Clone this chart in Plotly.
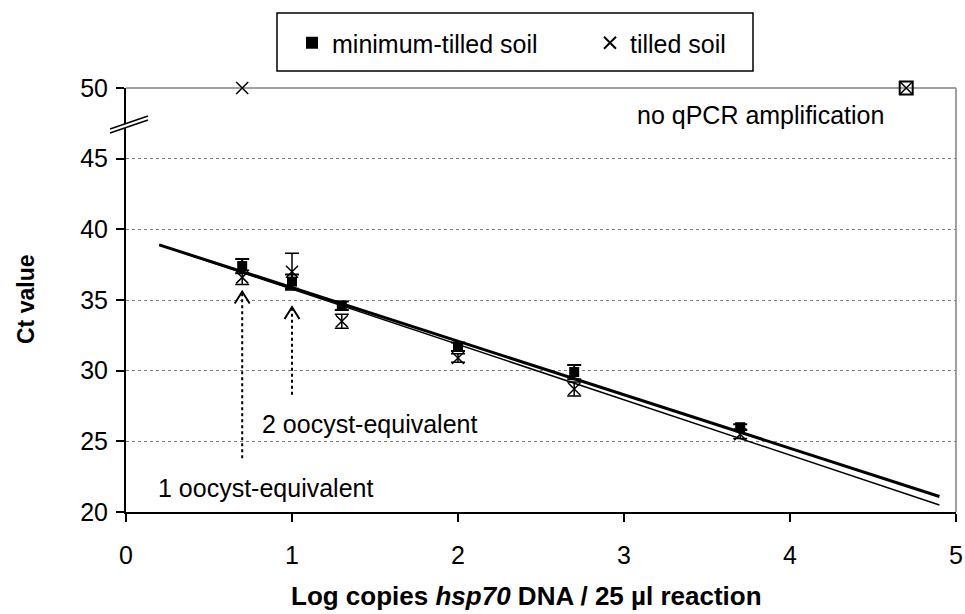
import plotly.graph_objects as go

# ---- data ----
log_copies = [0.7, 1.0, 1.3, 2.0, 2.7, 3.7]
ct_min_tilled = [37.4, 36.3, 34.6, 31.7, 29.9, 26.0]
err_min_tilled = [0.5, 0.5, 0.3, 0.3, 0.5, 0.2]
ct_tilled = [36.6, 37.0, 33.5, 30.9, 28.7, 25.5]
err_tilled = [0.5, 1.3, 0.5, 0.3, 0.5, 0.3]

# no amplification (plotted at Ct 50)
noamp_tilled_x = [0.7, 4.7]
noamp_tilled_y = [50, 50]
noamp_min_x = [4.7]
noamp_min_y = [50]

# regression lines
fit_x = [0.2, 4.9]
fit_min_tilled = [38.9, 21.1]
fit_tilled = [38.9, 20.5]

# oocyst-equivalent arrows
arrow_x = [0.7, 1.0]
arrow_bottom = [23.8, 28.3]
arrow_top = [35.6, 34.5]

x_ticks = [0, 1, 2, 3, 4, 5]
y_ticks = [20, 25, 30, 35, 40, 45, 50]

FONT = "Liberation Sans, Arial, sans-serif"
FS = 25

# plot-area geometry (pixels)
W, H = 965, 614
L, R, T, B = 126, 9, 88, 102
PW, PH = W - L - R, H - T - B


def px_x(p):
    return (p - L) / PW


def px_y(p):
    return (H - B - p) / PH


fig = go.Figure()

# regression lines
fig.add_trace(go.Scatter(x=fit_x, y=fit_tilled, mode="lines",
                         line=dict(color="black", width=1.5), showlegend=False, hoverinfo="skip"))
fig.add_trace(go.Scatter(x=fit_x, y=fit_min_tilled, mode="lines",
                         line=dict(color="black", width=3), showlegend=False, hoverinfo="skip"))

# arrows (dotted shafts + open chevron heads)
for ax, yb, yt in zip(arrow_x, arrow_bottom, arrow_top):
    fig.add_trace(go.Scatter(x=[ax, ax], y=[yb, yt - 0.1], mode="lines",
                             line=dict(color="black", width=2, dash="dot"),
                             showlegend=False, hoverinfo="skip"))
    fig.add_trace(go.Scatter(x=[ax - 0.045, ax, ax + 0.045], y=[yt - 0.85, yt, yt - 0.85],
                             mode="lines", line=dict(color="black", width=2),
                             showlegend=False, hoverinfo="skip"))

# data series
fig.add_trace(go.Scatter(
    x=log_copies, y=ct_min_tilled, mode="markers", name="minimum-tilled soil",
    marker=dict(symbol="square", size=10, color="black"),
    error_y=dict(type="data", array=err_min_tilled, color="black", thickness=2, width=7),
    cliponaxis=False))
fig.add_trace(go.Scatter(
    x=log_copies, y=ct_tilled, mode="markers", name="tilled soil",
    marker=dict(symbol="x-thin-open", size=12, color="black", line=dict(color="black", width=1.5)),
    error_y=dict(type="data", array=err_tilled, color="black", thickness=1.5, width=7),
    cliponaxis=False))

# no-amplification points
fig.add_trace(go.Scatter(
    x=noamp_min_x, y=noamp_min_y, mode="markers", showlegend=False,
    marker=dict(symbol="square-open", size=13, color="black", line=dict(width=2)),
    cliponaxis=False, hoverinfo="skip"))
fig.add_trace(go.Scatter(
    x=noamp_tilled_x, y=noamp_tilled_y, mode="markers", showlegend=False,
    marker=dict(symbol="x-thin-open", size=12, color="black", line=dict(color="black", width=1.5)),
    cliponaxis=False, hoverinfo="skip"))

# annotations
fig.add_annotation(x=0.18, y=21.7, text="1 oocyst-equivalent", showarrow=False,
                   xanchor="left", yanchor="middle", font=dict(size=FS, color="black", family=FONT))
fig.add_annotation(x=0.81, y=26.2, text="2 oocyst-equivalent", showarrow=False,
                   xanchor="left", yanchor="middle", font=dict(size=FS, color="black", family=FONT))
fig.add_annotation(x=3.82, y=48.1, text="no qPCR amplification", showarrow=False,
                   xanchor="center", yanchor="middle", font=dict(size=FS, color="black", family=FONT))

# axis titles
fig.add_annotation(xref="paper", yref="paper", x=px_x(526), y=px_y(596),
                   text="<b>Log copies <i>hsp70</i> DNA / 25 µl reaction</b>", showarrow=False,
                   xanchor="center", yanchor="middle", font=dict(size=26, color="black", family=FONT))
fig.add_annotation(xref="paper", yref="paper", x=px_x(26), y=px_y(300),
                   text="<b>Ct value</b>", showarrow=False, textangle=-90,
                   xanchor="center", yanchor="middle", font=dict(size=23, color="black", family=FONT))

# top and right borders (gray)
fig.add_shape(type="line", xref="paper", yref="paper", x0=0, x1=1, y0=1, y1=1,
              line=dict(color="#a0a0a0", width=2), layer="below")
fig.add_shape(type="line", xref="paper", yref="paper", x0=1, x1=1, y0=0, y1=1,
              line=dict(color="#a0a0a0", width=2), layer="below")

# legend frame
fig.add_shape(type="rect", xref="paper", yref="paper",
              x0=px_x(277), x1=px_x(753), y0=px_y(71), y1=px_y(13),
              line=dict(color="black", width=1.5), fillcolor="white", layer="below")

# axis break marks on the y axis
bx0, bx1 = px_x(110), px_x(148)
by0, by1 = px_y(133), px_y(120)
gap = 4 / PH
fig.add_shape(type="path", xref="paper", yref="paper",
              path=f"M {bx0},{by0} L {bx1},{by1} L {bx1},{by1 + gap} L {bx0},{by0 + gap} Z",
              line=dict(width=0), fillcolor="white")
fig.add_shape(type="line", xref="paper", yref="paper", x0=bx0, x1=bx1, y0=by0, y1=by1,
              line=dict(color="black", width=1.5))
fig.add_shape(type="line", xref="paper", yref="paper", x0=bx0, x1=bx1, y0=by0 + gap, y1=by1 + gap,
              line=dict(color="black", width=1.5))

fig.update_layout(
    width=W, height=H,
    margin=dict(l=L, r=R, t=T, b=B, autoexpand=False),
    paper_bgcolor="white", plot_bgcolor="white",
    font=dict(family=FONT, size=FS, color="black"),
    showlegend=True,
    legend=dict(orientation="h", x=px_x(292), y=px_y(43), xanchor="left", yanchor="middle",
                borderwidth=0, bgcolor="rgba(0,0,0,0)",
                entrywidth=253, entrywidthmode="pixels",
                font=dict(size=FS, family=FONT), itemsizing="constant"),
    xaxis=dict(range=[0, 5], tickvals=x_ticks, showgrid=False, zeroline=False,
               showline=True, linecolor="black", linewidth=2,
               ticks="outside", ticklen=8, tickwidth=1.5, tickcolor="black",
               ticklabelstandoff=12, tickfont=dict(size=FS)),
    yaxis=dict(range=[20, 50], tickvals=y_ticks, showgrid=True, gridcolor="#808080",
               griddash="dot", gridwidth=1, zeroline=False,
               showline=True, linecolor="black", linewidth=2,
               ticks="outside", ticklen=8, tickwidth=1.5, tickcolor="black",
               ticklabelstandoff=3, tickfont=dict(size=FS)),
)

fig.write_html("out.html")
